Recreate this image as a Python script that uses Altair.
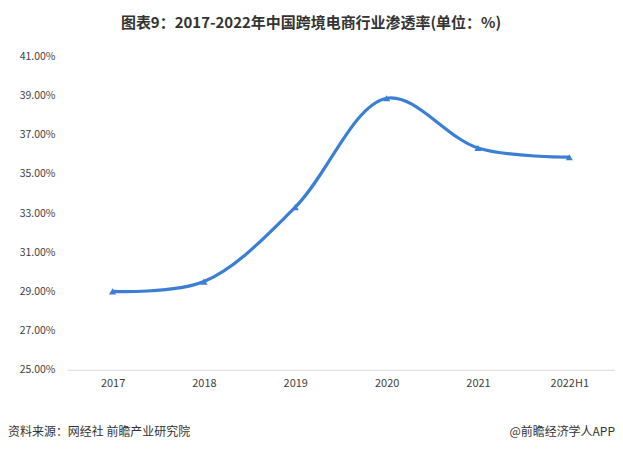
import altair as alt
import pandas as pd

years = ["2017", "2018", "2019", "2020", "2021", "2022H1"]
rates = [29.0, 29.5, 33.3, 38.86, 36.32, 35.85]
y_ticks = [25, 27, 29, 31, 33, 35, 37, 39, 41]

title_text = "图表9：2017-2022年中国跨境电商行业渗透率(单位：%)"
source_text = "资料来源：网经社 前瞻产业研究院"
brand_text = "@前瞻经济学人APP"

df = pd.DataFrame({"year": years, "rate": rates})

FONT = "Noto Sans CJK SC"
BLUE = "#3a7fd5"

x_enc = alt.X("year:N", sort=years, title=None,
              scale=alt.Scale(type="point", padding=0.5),
              axis=alt.Axis(labelAngle=0, ticks=False, domainColor="#d9d9d9",
                            labelFont=FONT, labelFontSize=11, labelColor="#404040",
                            labelPadding=8, grid=False))
y_enc = alt.Y("rate:Q", title=None,
              scale=alt.Scale(domain=[25, 41], nice=False, zero=False),
              axis=alt.Axis(values=y_ticks, grid=False, domain=False, ticks=False,
                            labelExpr="format(datum.value, '.2f') + '%'",
                            labelFont=FONT, labelFontSize=10.5, labelColor="#404040",
                            labelPadding=12))

base = alt.Chart(df)
line = base.mark_line(color=BLUE, strokeWidth=3.2, interpolate="catmull-rom").encode(x=x_enc, y=y_enc)
pts = base.mark_point(shape="triangle-up", filled=True, color=BLUE, size=50, opacity=1).encode(x=x_enc, y=y_enc)

footer_l = alt.Chart(pd.DataFrame({"t": [source_text]})).mark_text(
    font=FONT, fontSize=12, color="#333333", align="left", baseline="middle"
).encode(text="t:N", x=alt.value(-59), y=alt.value(376))
footer_r = alt.Chart(pd.DataFrame({"t": [brand_text]})).mark_text(
    font=FONT, fontSize=12, color="#333333", align="right", baseline="middle"
).encode(text="t:N", x=alt.value(549), y=alt.value(376))

chart = alt.layer(line, pts, footer_l, footer_r).properties(
    width=549, height=314,
    background="white",
    title=alt.TitleParams(title_text, font=FONT, fontSize=15, fontWeight="bold",
                          color="#333333", anchor="middle", offset=20, dx=-30),
    autosize=alt.AutoSizeParams(type="none"),
    padding={"left": 59, "top": 48, "right": 0, "bottom": 74},
).configure_view(strokeWidth=0, stroke=None).configure_axis(grid=False)

chart.save("out.html", embed_options={"renderer": "svg", "actions": False})
